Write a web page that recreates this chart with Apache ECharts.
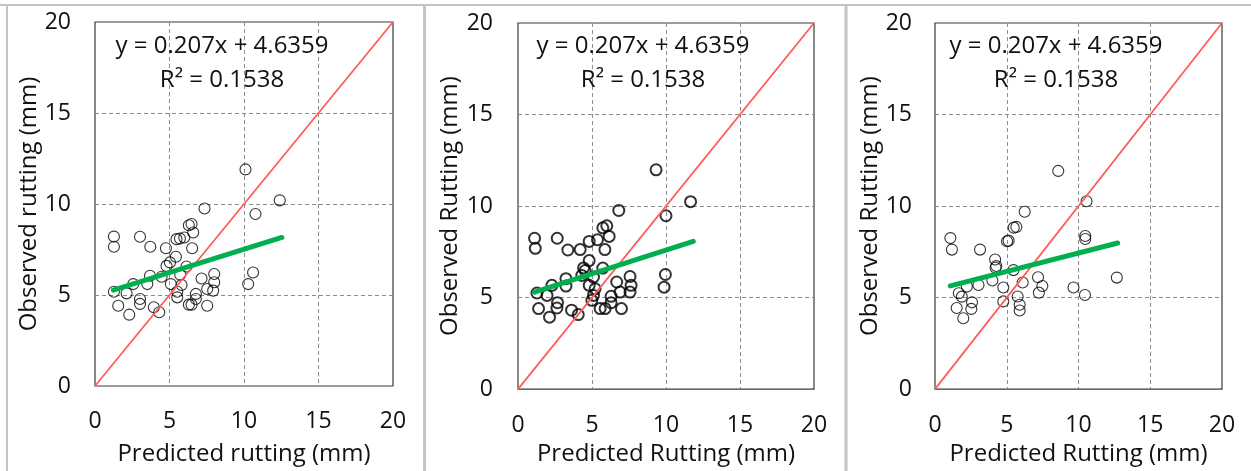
<!DOCTYPE html>
<html>
<head>
<meta charset="utf-8">
<script src="https://cdn.jsdelivr.net/npm/echarts@6/dist/echarts.min.js"></script>
<style>
  html, body { margin: 0; padding: 0; background: #fff; }
  #chart { width: 1251px; height: 471px; }
</style>
</head>
<body>
<div id="chart"></div>
<script>
// predicted / observed rutting (mm)
const pred1 = [10.1, 12.4, 7.35, 10.77, 6.3, 6.48, 6.59, 1.27, 1.27, 3.02, 3.71, 4.76, 5.47, 5.7, 5.99, 6.52, 5.43, 4.8, 5.03, 6.14,
  3.69, 4.47, 5.72, 2.57, 3.51, 5.09, 5.81, 1.27, 2.12, 1.56, 2.3, 3.02, 3.02, 3.95, 4.31, 5.52, 5.52, 6.3, 6.48, 6.77,
  6.77, 7.15, 7.53, 7.53, 8.0, 8.0, 7.93, 10.28, 10.61];
const obs1 = [11.9, 10.2, 9.75, 9.45, 8.83, 8.9, 8.43, 8.21, 7.65, 8.2, 7.65, 7.57, 8.07, 8.1, 8.16, 7.57, 7.1, 6.6, 6.79, 6.57,
  6.06, 6.0, 6.11, 5.6, 5.6, 5.6, 5.55, 5.18, 5.09, 4.41, 3.92, 4.78, 4.51, 4.33, 4.05, 5.18, 4.87, 4.47, 4.47, 5.06,
  4.78, 5.91, 5.33, 4.41, 6.15, 5.7, 5.24, 5.6, 6.24];

const pred2 = [9.33, 11.66, 6.81, 10.0, 5.73, 6.0, 6.16, 1.12, 1.17, 2.65, 3.37, 4.2, 4.81, 5.37, 5.87, 4.81, 4.43, 4.31, 5.73, 5.1,
  3.24, 3.24, 2.29, 1.28, 1.96, 1.39, 2.13, 2.67, 2.63, 3.62, 4.07, 4.81, 5.21, 5.1, 4.99, 5.55, 5.89, 6.29, 6.29, 6.67,
  6.9, 6.99, 7.57, 7.64, 7.57, 9.87, 9.96, 4.54];
const obs2 = [11.98, 10.24, 9.76, 9.47, 8.81, 8.92, 8.34, 8.24, 7.69, 8.24, 7.6, 7.62, 8.07, 8.16, 7.62, 7.02, 6.62, 6.21, 6.61, 6.12,
  6.03, 5.63, 5.67, 5.25, 5.12, 4.4, 3.93, 4.72, 4.43, 4.31, 4.07, 5.67, 5.48, 5.12, 4.85, 4.4, 4.4, 5.07, 4.72, 5.85,
  5.3, 4.4, 6.15, 5.67, 5.3, 5.57, 6.26, 6.48];

const pred3 = [8.59, 10.56, 6.25, 5.49, 5.67, 5.02, 5.13, 10.47, 10.47, 1.07, 1.18, 3.14, 4.19, 4.27, 4.22, 5.47, 4.0, 3.03, 2.22,
  1.66, 1.87, 1.51, 1.97, 2.58, 2.53, 4.76, 4.76, 5.76, 5.9, 5.9, 6.11, 7.18, 7.24, 7.48, 9.65, 10.45, 12.67];
const obs3 = [11.92, 10.26, 9.69, 8.82, 8.86, 8.08, 8.11, 8.36, 8.2, 8.25, 7.62, 7.62, 7.08, 6.72, 6.63, 6.5, 5.93, 5.69, 5.6,
  5.24, 5.05, 4.43, 3.87, 4.74, 4.38, 5.55, 4.79, 5.06, 4.61, 4.29, 5.82, 6.11, 5.27, 5.63, 5.55, 5.14, 6.09];

// fitted trend lines (end points)
const trendX1 = [1.23, 12.54], trendY1 = [5.27, 8.16];
const trendX2 = [1.12, 11.84], trendY2 = [5.3, 8.07];
const trendX3 = [1.07, 12.73], trendY3 = [5.64, 7.98];

// line of equality
const equality = [0, 20];

const yTitles = ["Observed rutting (mm)", "Observed Rutting (mm)", "Observed Rutting (mm)"];
const xTitles = ["Predicted rutting (mm)", "Predicted Rutting (mm)", "Predicted Rutting (mm)"];
const equation = "y = 0.207x + 4.6359";
const rSquared = "R\u00b2 = 0.1538";

const FONT = "'Open Sans', Lato, sans-serif";

const panels = [
  { pred: pred1, obs: obs1, tx: trendX1, ty: trendY1, grid: { left: 95, top: 22, width: 298, height: 365 },
    xMargin: 24, yMargin: 24, xGap: 68, yGap: 63, ring: 1.1, textX: 222 },
  { pred: pred2, obs: obs2, tx: trendX2, ty: trendY2, grid: { left: 518, top: 23, width: 296, height: 368 },
    xMargin: 25, yMargin: 25, xGap: 64, yGap: 68, ring: 2, textX: 643 },
  { pred: pred3, obs: obs3, tx: trendX3, ty: trendY3, grid: { left: 935, top: 23, width: 287, height: 370 },
    xMargin: 25, yMargin: 23, xGap: 63, yGap: 64, ring: 1.1, textX: 1056 }
];

const chart = echarts.init(document.getElementById("chart"), null, { renderer: "canvas" });

const grids = [], xAxes = [], yAxes = [], series = [], graphics = [];

const axisBase = (i) => ({
  gridIndex: i,
  type: "value",
  min: 0,
  max: 20,
  interval: 5,
  axisLine: { show: false },
  axisTick: { show: false },
  splitLine: {
    show: true,
    showMinLine: false,
    showMaxLine: false,
    lineStyle: { color: "#8c8c8c", type: [4, 3], width: 1 }
  }
});

panels.forEach((p, i) => {
  grids.push(Object.assign({ show: true, borderColor: "#3a3a3a", borderWidth: 1.2, backgroundColor: "#fff" }, p.grid));

  xAxes.push(Object.assign(axisBase(i), {
    name: xTitles[i],
    nameLocation: "middle",
    nameGap: p.xGap,
    nameTextStyle: { fontFamily: FONT, fontSize: 24, color: "#111", verticalAlign: "middle" },
    axisLabel: { margin: p.xMargin, fontFamily: FONT, fontSize: 23, color: "#111" }
  }));

  yAxes.push(Object.assign(axisBase(i), {
    name: yTitles[i],
    nameLocation: "middle",
    nameGap: p.yGap,
    nameRotate: 90,
    nameTextStyle: { fontFamily: FONT, fontSize: 24, color: "#111", verticalAlign: "middle" },
    axisLabel: { margin: p.yMargin, fontFamily: FONT, fontSize: 23, color: "#111" }
  }));

  series.push({
    type: "scatter",
    xAxisIndex: i,
    yAxisIndex: i,
    symbol: "circle",
    symbolSize: 11,
    itemStyle: { color: "rgba(0,0,0,0)", borderColor: "#000", borderWidth: p.ring },
    data: p.pred.map((x, k) => [x, p.obs[k]])
  });

  series.push({
    type: "line",
    xAxisIndex: i,
    yAxisIndex: i,
    symbol: "none",
    lineStyle: { color: "#ff5c5c", width: 1.8 },
    data: equality.map((v) => [v, v])
  });

  series.push({
    type: "line",
    xAxisIndex: i,
    yAxisIndex: i,
    symbol: "none",
    lineStyle: { color: "#00b050", width: 5, cap: "round" },
    data: p.tx.map((x, k) => [x, p.ty[k]])
  });

  graphics.push(
    { type: "text", z: 100, style: { text: equation, x: p.textX, y: 46, font: "24px " + FONT, fill: "#111",
      textAlign: "center", textVerticalAlign: "middle", align: "center", verticalAlign: "middle" } },
    { type: "text", z: 100, style: { text: rSquared, x: p.textX, y: 80, font: "24px " + FONT, fill: "#111",
      textAlign: "center", textVerticalAlign: "middle", align: "center", verticalAlign: "middle" } }
  );
});

// panel frames
const frameLine = (x1, y1, x2, y2, w) => ({
  type: "line", z: 50, shape: { x1, y1, x2, y2 }, style: { stroke: "#c4c4c4", lineWidth: w }
});
graphics.push(
  frameLine(0, 5, 1251, 5, 2),
  frameLine(7, 5, 7, 471, 2),
  frameLine(424.5, 5, 424.5, 471, 3),
  frameLine(846, 5, 846, 471, 3)
);

chart.setOption({
  animation: false,
  backgroundColor: "#fff",
  grid: grids,
  xAxis: xAxes,
  yAxis: yAxes,
  series: series,
  graphic: graphics
});
</script>
</body>
</html>
